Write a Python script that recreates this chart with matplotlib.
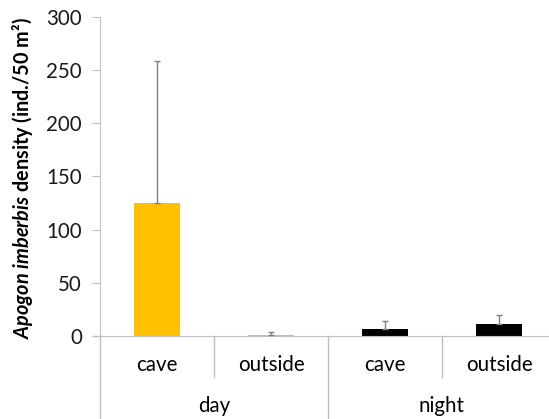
import numpy as np
import matplotlib
matplotlib.use("Agg")
import matplotlib.pyplot as plt

plt.rcParams['font.family'] = ['Lato', 'DejaVu Sans']
plt.rcParams['mathtext.fontset'] = 'custom'
plt.rcParams['mathtext.bfit'] = 'Lato:bold:italic'
plt.rcParams['mathtext.bf'] = 'Lato:bold'

# datos
sitios = ['cave', 'outside', 'cave', 'outside']
periodos = ['day', 'night']
densidad = [125, 1, 6.5, 11.5]
error_sup = [134, 2.5, 8, 8.5]
colores = ['#FFC000', '#FFC000', '#000000', '#000000']

gris = '#BFBFBF'
fs = 14.8

fig = plt.figure(figsize=(5.49, 4.19), dpi=100)
W, H = 549, 419
ax = fig.add_axes([100 / W, (H - 336) / H, 456 / W, (336 - 17) / H])

x = np.arange(len(sitios))
ax.bar(x, densidad, width=0.4, color=colores, zorder=2)
ax.errorbar(x, densidad, yerr=[np.zeros(len(x)), error_sup], fmt='none',
            ecolor='#808080', elinewidth=1, capsize=2.5, capthick=1, zorder=3)

ax.set_xlim(-0.5, 3.5)
ax.set_ylim(0, 300)
ax.set_yticks([0, 50, 100, 150, 200, 250, 300])
ax.set_xticks([])
for s in ['top', 'right']:
    ax.spines[s].set_visible(False)
ax.spines['left'].set_color(gris)
ax.spines['bottom'].set_color(gris)
ax.tick_params(axis='y', colors=gris, length=6, pad=7, labelsize=fs, labelcolor='#1a1a1a')

ax.set_ylabel(r'$\mathbfit{Apogon}$ $\mathbfit{imberbis}$ density (ind./50 m²)',
              fontsize=14.3, fontweight='bold')
ax.yaxis.set_label_coords(-0.143, 0.495)

# etiquetas agrupadas
trans = ax.get_xaxis_transform()
px = 1.0 / (336 - 17)
for i, s in enumerate(sitios):
    ax.text(i, -29 * px, s, transform=trans, ha='center', va='center', fontsize=fs)
for j, p in enumerate(periodos):
    ax.text(2 * j + 0.5, -70 * px, p, transform=trans, ha='center', va='center', fontsize=fs)

# divisores
ax.plot([0.5, 0.5], [0, -41 * px], transform=trans, color=gris, lw=1, clip_on=False)
ax.plot([2.5, 2.5], [0, -41 * px], transform=trans, color=gris, lw=1, clip_on=False)
ax.plot([1.5, 1.5], [0, -90 * px], transform=trans, color=gris, lw=1, clip_on=False)
ax.plot([-0.5, -0.5], [0, -90 * px], transform=trans, color=gris, lw=1, clip_on=False)
ax.plot([-0.56, -0.5], [0, 0], transform=trans, color=gris, lw=1, clip_on=False)

fig.savefig('out.png', dpi=100)
